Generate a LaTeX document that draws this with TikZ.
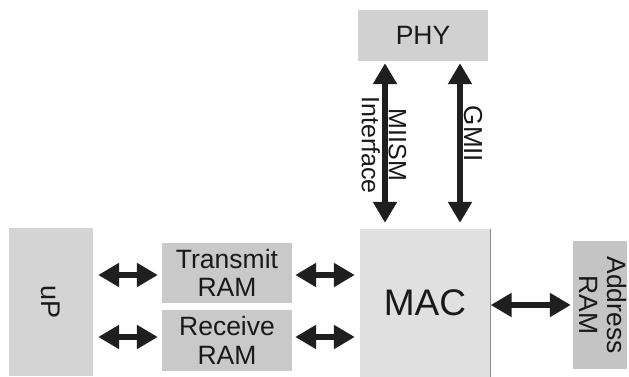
\documentclass[tikz,border=0pt]{standalone}
\usepackage{fontspec}
\setmainfont{Liberation Sans}
\usetikzlibrary{arrows.meta,calc}
\begin{document}
\begin{tikzpicture}[x=1pt,y=-1pt,
  box/.style={inner sep=0pt, draw=none, align=center, text=black!90},
  txt/.style={inner sep=0pt, align=center, text=black!90},
  fs/.style={font=\fontsize{26.5}{28.5}\selectfont},
  arr/.style={line width=6pt, draw=black!88, {Triangle[length=21pt,width=23pt]}-{Triangle[length=21pt,width=23pt]}}
]
\useasboundingbox (0,0) rectangle (629,377);
\fill[white] (0,0) rectangle (629,377);
% boxes
\node[box, fs, fill=black!18, minimum width=130pt, minimum height=51pt] (phy) at (423,35.5) {PHY};
\node[box, fill=black!17, minimum width=84pt, minimum height=148pt] (up) at (51,302) {};
\node[txt, font=\fontsize{27}{29}\selectfont, rotate=-90] (uptxt) at (up.center) {uP};
\node[box, fs, fill=black!21, minimum width=130pt, minimum height=60pt] (tx) at (227,273) {Transmit\\RAM};
\node[box, fs, fill=black!21, minimum width=130pt, minimum height=61pt] (rx) at (227,340.5) {Receive\\RAM};
\node[box, fill=black!12, minimum width=130pt, minimum height=148pt, font=\fontsize{37}{40}\selectfont] (mac) at (425,303) {MAC};
\draw[black!45, line width=1.2pt] (mac.north east) -- (mac.south east);
\node[box, fill=black!23, minimum width=54pt, minimum height=128pt] (addr) at (600,305) {};
\node[txt, fs, rotate=-90] (addrtxt) at ([xshift=3pt]addr.center) {Address\\RAM};
% horizontal arrows
\draw[arr, shorten <=5pt, shorten >=4pt] ([yshift=-2pt]up.east |- tx.west) -- ([yshift=-2pt]tx.west);
\draw[arr, shorten <=5pt, shorten >=4pt] ([yshift=3.5pt]up.east |- rx.west) -- ([yshift=3.5pt]rx.west);
\draw[arr, shorten <=3pt, shorten >=5pt] ([yshift=-2pt]tx.east) -- ([yshift=-2pt]tx.east -| mac.west);
\draw[arr, shorten <=3pt, shorten >=5pt] ([yshift=3.5pt]rx.east) -- ([yshift=3.5pt]rx.east -| mac.west);
\draw[arr, shorten <=0.5pt, shorten >=2pt] (mac.east |- addr.west) -- (addr.west);
% vertical arrows
\draw[arr, shorten <=2pt, shorten >=6pt] ([xshift=-38pt]phy.south) -- ([xshift=-38pt]phy.south |- mac.north);
\draw[arr, shorten <=2pt, shorten >=6pt] ([xshift=37pt]phy.south) -- ([xshift=37pt]phy.south |- mac.north);
% labels
\node[txt, font=\fontsize{25}{27}\selectfont, rotate=-90] (miism) at (384,145) {MIISM\\Interface};
\node[txt, font=\fontsize{26}{28}\selectfont, rotate=-90] (gmii) at (473,134) {GMII};
\end{tikzpicture}
\end{document}
